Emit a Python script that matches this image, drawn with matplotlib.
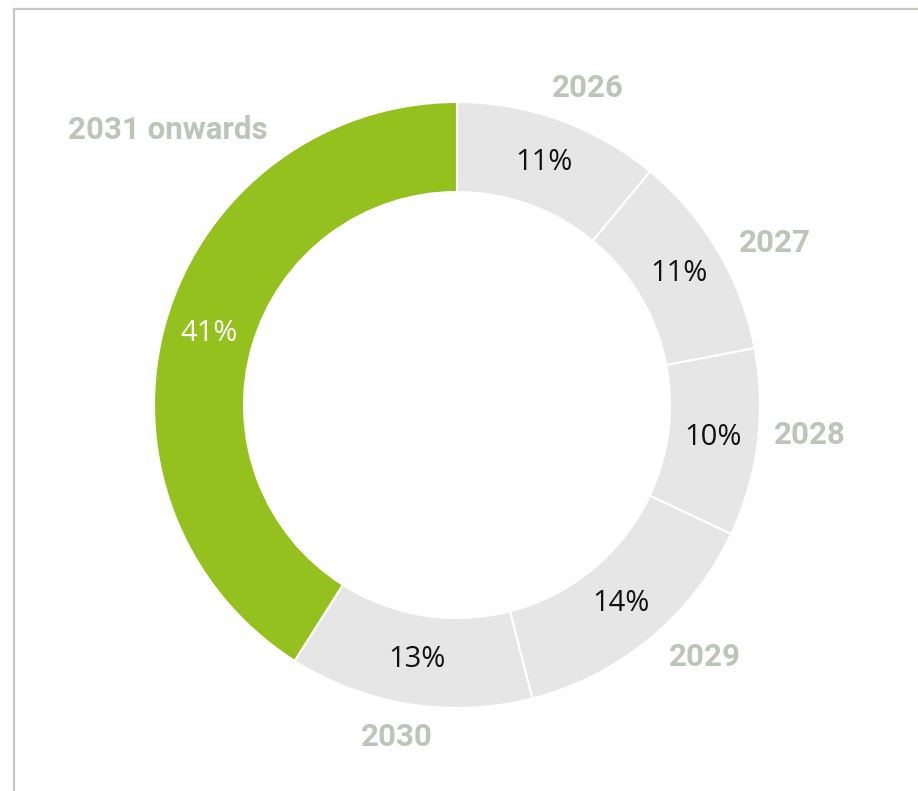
import matplotlib.pyplot as plt
import numpy as np
from matplotlib.lines import Line2D

years = ["2026", "2027", "2028", "2029", "2030", "2031 onwards"]
shares = [11, 11, 10, 14, 13, 41]
pct_labels = ["11%", "11%", "10%", "14%", "13%", "41%"]

GREEN = "#95c11f"
GREY = "#e6e6e6"
LABEL_GREY = "#bcc5b8"
FRAME = "#c3cbbf"

colors = [GREY] * 5 + [GREEN]
pct_colors = ["#111111"] * 5 + ["white"]

W, H = 918, 791
CX, CY = 457, H - 405
R_OUT, R_IN = 303, 213

# where the category labels sit (pixels from top-left)
label_pos = [(588, 88), (775, 243), (810, 435), (705, 657), (397, 737), (168, 130)]

plt.rcParams["font.family"] = ["Open Sans", "DejaVu Sans"]

fig = plt.figure(figsize=(W / 100, H / 100), dpi=100)
ax = fig.add_axes([0, 0, 1, 1])

wedges, _ = ax.pie(shares, colors=colors, startangle=90, counterclock=False,
                   center=(CX, CY), radius=R_OUT, frame=True,
                   wedgeprops=dict(width=R_OUT - R_IN, edgecolor="white", linewidth=1.5))
ax.set_xlim(0, W)
ax.set_ylim(0, H)
ax.set_aspect("equal")
ax.axis("off")

r_mid = (R_OUT + R_IN) / 2
for w, txt, c, name, (lx, ly) in zip(wedges, pct_labels, pct_colors, years, label_pos):
    ang = np.deg2rad((w.theta1 + w.theta2) / 2)
    ax.text(CX + r_mid * np.cos(ang), CY + r_mid * np.sin(ang), txt,
            ha="center", va="center", fontsize=21, color=c)
    ax.text(lx, H - ly, name, ha="center", va="center", fontsize=22.5,
            fontweight="bold", color=LABEL_GREY, family=["Roboto", "DejaVu Sans"])

# frame on left and top
fig.add_artist(Line2D([14 / W, 14 / W], [0, 1 - 9 / H], transform=fig.transFigure,
                      color=FRAME, linewidth=1.6))
fig.add_artist(Line2D([14 / W, 1], [1 - 9 / H, 1 - 9 / H], transform=fig.transFigure,
                      color=FRAME, linewidth=1.6))

fig.savefig("out.png", dpi=100)
